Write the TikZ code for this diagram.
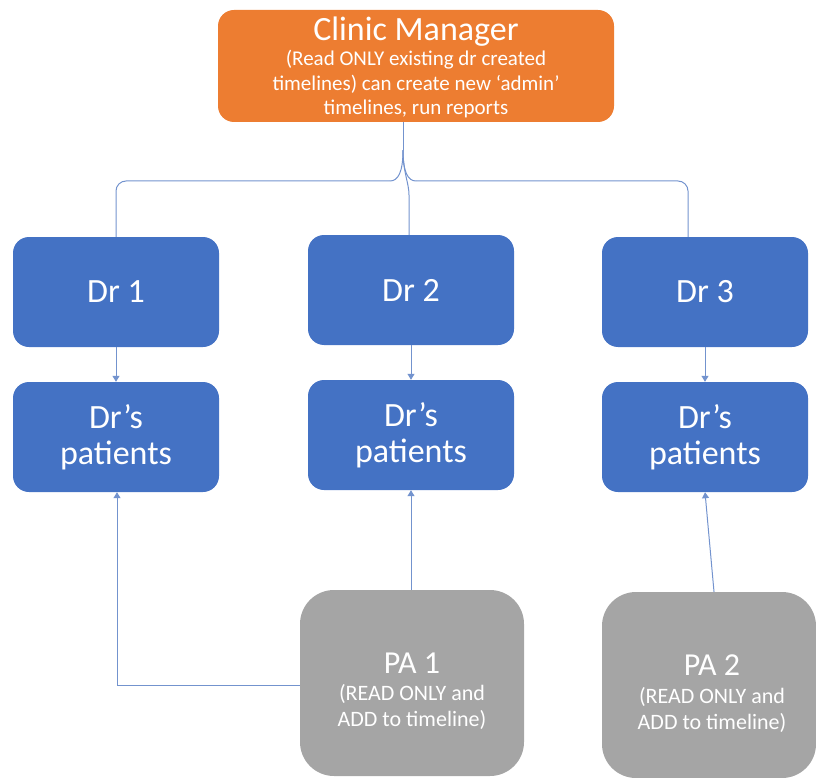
\documentclass[tikz,border=0pt]{standalone}
\usepackage{fontspec}
\setmainfont{Carlito}
\usetikzlibrary{arrows.meta}
\definecolor{cmorange}{HTML}{ED7D31}
\definecolor{drblue}{HTML}{4472C4}
\definecolor{pagray}{HTML}{A5A5A5}
\definecolor{lnblue}{HTML}{7393CE}
\tikzset{
  box/.style={rounded corners=16pt, text=white, align=center, inner sep=0pt, draw=none},
  drbox/.style={box, fill=drblue, minimum width=206pt, minimum height=110pt, font=\fontsize{34}{36}\selectfont},
  cmbox/.style={box, fill=cmorange, minimum width=396pt, minimum height=112pt},
  pabox/.style={box, rounded corners=34pt, fill=pagray, minimum height=186pt},
  txt/.style={text=white, align=center, inner sep=0pt, anchor=base},
  cmtitle/.style={txt, font=\fontsize{34}{36}\selectfont},
  cmsub/.style={txt, font=\fontsize{21}{24.5}\selectfont},
  patitle/.style={txt, font=\fontsize{32}{36}\selectfont},
  pasub/.style={txt, font=\fontsize{22}{25.5}\selectfont},
  conn/.style={draw=lnblue, line width=1pt},
  arr/.style={conn, -{Triangle[width=7pt,length=6pt]}}
}
\begin{document}
\begin{tikzpicture}[x=1pt,y=1pt]
\useasboundingbox (0,0) rectangle (816,-778);
\node[cmbox] (cm) at (416,-66) {};
\node[cmtitle] (cmt) at (416,-41) {Clinic Manager};
\node[cmsub] (cms) at (416,-115) {(Read ONLY existing dr created\\timelines) can create new ‘admin’\\timelines, run reports};
\node[drbox] (d1) at (116,-292) {Dr 1};
\node[drbox] (d2) at (411,-290) {Dr 2};
\node[drbox] (d3) at (705,-292) {Dr 3};
\node[drbox] (p1) at (116,-437) {Dr’s\\patients};
\node[drbox] (p2) at (411,-435) {Dr’s\\patients};
\node[drbox] (p3) at (705,-437) {Dr’s\\patients};
\node[pabox, minimum width=224pt] (pa1) at (412,-683) {};
\node[pabox, minimum width=214pt] (pa2) at (709,-685) {};
\node[patitle] (pa1t) at (412,-673) {PA 1};
\node[pasub] (pa1s) at (412,-726) {(READ ONLY and\\ADD to timeline)};
\node[patitle] (pa2t) at (712,-675) {PA 2};
\node[pasub] (pa2s) at (712,-729) {(READ ONLY and\\ADD to timeline)};
% top connector
\coordinate (hub) at ([xshift=-13pt,yshift=-28pt]cm.south);
\coordinate (hl) at (0,-181);
\draw[conn] ([xshift=-13pt]cm.south) -- (hub);
\draw[conn] (hub) .. controls +(0,-22) and +(8,0) .. (390,-181);
\draw[conn] (hub) .. controls +(0,-22) and +(-8,0) .. (416,-181);
\draw[conn, rounded corners=10pt] (390,-181) -- (d1.north |- hl) -- (d1.north);
\draw[conn, rounded corners=10pt] (416,-181) -- ([xshift=-17pt]d3.north |- hl) -- ([xshift=-17pt]d3.north);
\draw[conn] (hub) .. controls +(0,-22) and +(0,12) .. (409,-195) -- ([xshift=-2pt]d2.north);
% doctor to patients
\draw[arr] (d1.south) -- (p1.north);
\draw[arr] (d2.south) -- (p2.north);
\draw[arr] (d3.south) -- (p3.north);
% PA connectors
\draw[arr] ([xshift=-1pt]pa1.north) -- (p2.south);
\draw[arr] ([yshift=-2pt]pa1.west) -| ([xshift=1pt]p1.south);
\draw[arr] ([xshift=5pt]pa2.north) -- (p3.south);
\end{tikzpicture}
\end{document}
